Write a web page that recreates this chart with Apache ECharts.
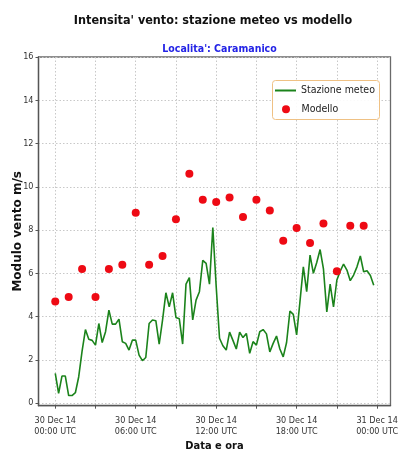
<!DOCTYPE html>
<html>
<head>
<meta charset="utf-8">
<script src="https://cdn.jsdelivr.net/npm/echarts@6/dist/echarts.min.js"></script>
<style>
  html, body { margin: 0; padding: 0; background: #ffffff; }
  #chart { width: 398px; height: 452px; }
</style>
</head>
<body>
<div id="chart"></div>
<script>
// Wind speed at the weather station, sampled every 15 minutes from 30 Dec 14 00:00 UTC (m/s)
const stationStartHour = 0;
const stationStepHours = 0.25;
const stationValues = [
  1.37, 0.45, 1.25, 1.25, 0.35, 0.35, 0.48, 1.22, 2.4, 3.4, 2.95, 2.9,
  2.68, 3.68, 2.8, 3.3, 4.3, 3.65, 3.65, 3.88, 2.84, 2.76, 2.45, 2.91,
  2.91, 2.22, 1.96, 2.11, 3.68, 3.84, 3.81, 2.73, 3.84, 5.1, 4.45, 5.1,
  3.96, 3.9, 2.73, 5.5, 5.8, 3.85, 4.76, 5.15, 6.6, 6.46, 5.5, 8.12,
  5.4, 3.0, 2.65, 2.45, 3.28, 2.9, 2.5, 3.28, 3.03, 3.22, 2.3, 2.84,
  2.68, 3.3, 3.4, 3.2, 2.37, 2.76, 3.1, 2.5, 2.14, 2.8, 4.25, 4.1,
  3.15, 4.7, 6.3, 5.15, 6.84, 6.0, 6.5, 7.1, 6.2, 4.22, 5.5, 4.45,
  5.69, 6.1, 6.43, 6.15, 5.66, 5.92, 6.3, 6.8, 6.07, 6.12, 5.9, 5.45
];

// Hourly model forecast (hours since 30 Dec 14 00:00 UTC, m/s)
const modelHours = [0, 1, 2, 3, 4, 5, 6, 7, 8, 9, 10, 11, 12, 13, 14, 15, 16, 17, 18, 19, 20, 21, 22, 23];
const modelValues = [4.7, 4.9, 6.2, 4.9, 6.2, 6.4, 8.8, 6.4, 6.8, 8.5, 10.6, 9.4,
                     9.3, 9.5, 8.6, 9.4, 8.9, 7.5, 8.1, 7.4, 8.3, 6.1, 8.2, 8.2];

// Axis ticks
const xLabelHours = [0, 6, 12, 18, 24];
const xTickLabels = ['30 Dec 14\n00:00 UTC', '30 Dec 14\n06:00 UTC', '30 Dec 14\n12:00 UTC',
                     '30 Dec 14\n18:00 UTC', '31 Dec 14\n00:00 UTC'];
const xGridHours = [0, 3, 6, 9, 12, 15, 18, 21, 24];
const yTicks = [0, 2, 4, 6, 8, 10, 12, 14, 16];

const stationData = stationValues.map((v, i) => [stationStartHour + i * stationStepHours, v]);
const modelData = modelHours.map((h, i) => [h, modelValues[i]]);

const condFont = "'DejaVu Sans Condensed', 'DejaVu Sans', sans-serif";
const legendText = { fontFamily: condFont, fontSize: 10.5, color: '#222222', lineHeight: 12 };

const chart = echarts.init(document.getElementById('chart'), null, { renderer: 'canvas' });
chart.setOption({
  backgroundColor: '#ffffff',
  animation: false,
  title: [
    {
      text: "Intensita' vento: stazione meteo vs modello",
      left: 208, top: 9, textAlign: 'center',
      textStyle: { fontFamily: condFont, fontWeight: 'bold', fontSize: 12.5, color: '#111111' }
    },
    {
      text: "Localita': Caramanico",
      left: 214.5, top: 39, textAlign: 'center',
      textStyle: { fontFamily: condFont, fontWeight: 'bold', fontSize: 10.5, color: '#2323e6' }
    }
  ],
  // legend frame
  graphic: [
    {
      type: 'rect', z: 5,
      shape: { x: 272.5, y: 80.5, width: 107, height: 39, r: 3 },
      style: { fill: 'rgba(255,255,255,0.9)', stroke: '#efc184', lineWidth: 1 }
    }
  ],
  legend: [
    {
      data: ['Stazione meteo'],
      left: 275, top: 84.5, padding: 0,
      itemWidth: 21, itemHeight: 2, icon: 'rect', itemGap: 0,
      textStyle: legendText, z: 10
    },
    {
      data: ['Modello'],
      left: 282, top: 103.3, padding: 0,
      itemWidth: 21, itemHeight: 8, icon: 'circle', itemGap: 0,
      textStyle: legendText, z: 10
    }
  ],
  grid: {
    left: 38.5, right: 7.5, top: 57, bottom: 46.3,
    outerBoundsMode: 'none', containLabel: false,
    show: true, borderColor: '#6a6a6a', borderWidth: 1.3, backgroundColor: '#ffffff'
  },
  xAxis: {
    type: 'value', min: -1.25, max: 25,
    name: 'Data e ora', nameLocation: 'middle', nameGap: 35, nameMoveOverlap: false,
    nameTextStyle: { fontFamily: condFont, fontWeight: 'bold', fontSize: 11, color: '#111111' },
    axisLine: { show: true, onZero: false, lineStyle: { color: '#555555', width: 1.3 } },
    axisTick: { show: true, inside: false, length: 3, customValues: xGridHours, lineStyle: { color: '#555555' } },
    axisLabel: {
      customValues: xLabelHours, margin: 9,
      fontFamily: condFont, fontSize: 9, lineHeight: 11, color: '#333333',
      formatter: v => xTickLabels[xLabelHours.indexOf(v)] || ''
    },
    splitLine: { show: true, lineStyle: { color: '#c8c8c8', type: [1.5, 2], width: 1 } }
  },
  yAxis: {
    type: 'value', min: -0.12, max: 16,
    name: 'Modulo vento m/s', nameLocation: 'middle', nameGap: 15, nameMoveOverlap: false,
    nameTextStyle: { fontFamily: "'DejaVu Sans', sans-serif", fontWeight: 'bold', fontSize: 12, color: '#111111' },
    axisLine: { show: true, onZero: false, lineStyle: { color: '#555555', width: 1.3 } },
    axisTick: { show: true, inside: false, length: 3, customValues: yTicks, lineStyle: { color: '#555555' } },
    axisLabel: {
      customValues: yTicks, margin: 5,
      fontFamily: condFont, fontSize: 9, color: '#333333'
    },
    splitLine: { show: true, lineStyle: { color: '#c8c8c8', type: [1.5, 2], width: 1 } }
  },
  series: [
    {
      name: 'Stazione meteo', type: 'line',
      data: stationData,
      symbol: 'none',
      lineStyle: { color: '#1b831b', width: 1.6 },
      itemStyle: { color: '#1b831b' },
      z: 3
    },
    {
      name: 'Modello', type: 'scatter',
      data: modelData,
      symbol: 'circle', symbolSize: 8,
      itemStyle: { color: '#ee0a14', opacity: 1 },
      z: 4
    }
  ]
});
</script>
</body>
</html>
